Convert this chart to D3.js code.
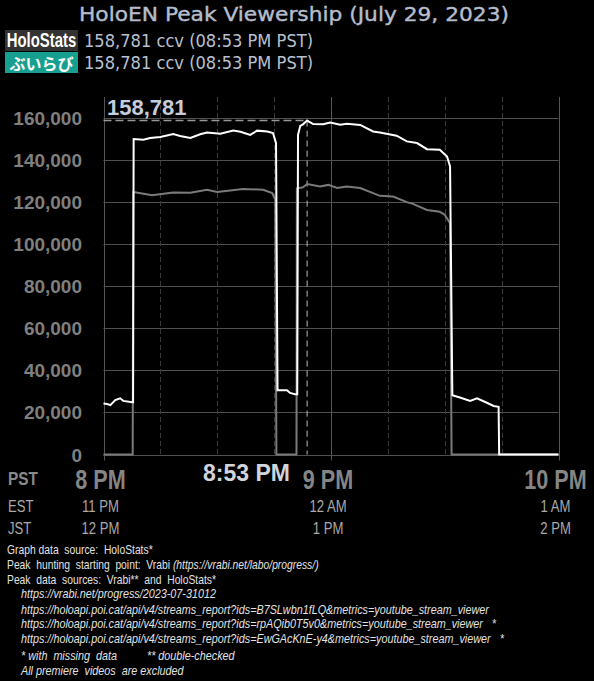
<!DOCTYPE html>
<html>
<head>
<meta charset="utf-8">
<script src="https://cdn.jsdelivr.net/npm/d3@7"></script>
<style>
  body { margin: 0; background: #000; }
  svg { display: block; }
</style>
</head>
<body>
<div id="chart"></div>
<script>
// minutes after 8 PM PST and viewers (total of all streams)
var totalMinutes = [0, 1.0, 1.8, 3.1, 4.4, 5.2, 7.6, 7.8, 7.95, 10.5, 12.3, 15, 18.4, 20.2, 22.9, 25.5, 27.3,
  30.8, 34.2, 36.1, 38.7, 40.5, 43.2, 44.7, 45.5, 45.9, 48.4, 49.2, 50.5, 51.1, 51.3, 51.9, 52.6, 53.7,
  55.3, 57.9, 59.8, 62.4, 64.2, 67.7, 71.1, 72.9, 77.3, 80.0, 82.7, 85.3, 88.7, 90.6, 91.4, 92.0,
  94.0, 96.7, 98.5, 101.1, 102.9, 104.2, 104.35, 120];
var totalViewers = [24300, 24000, 23500, 25900, 26700, 25500, 24800, 24800, 150000, 149700, 150500, 151000, 152400, 151500, 150500, 152300, 153100,
  152500, 154100, 153500, 152000, 154000, 153600, 152900, 148000, 30600, 30600, 29300, 28700, 28700, 152000, 156300, 157000, 158781,
  157100, 157000, 157900, 156800, 157300, 156700, 153600, 153100, 151600, 148900, 148100, 145200, 144900, 141700, 137000, 28200,
  27100, 25500, 26700, 24600, 23100, 22700, 0, 0];

// main stream viewers
var streamMinutes = [0, 7.7, 7.85, 12.8, 18.4, 22.9, 27.3, 30.0, 33.4, 36.8, 42.1, 44.5, 45.3, 45.6, 50.9, 51.0,
  52.6, 53.7, 57.1, 59.3, 61.6, 64.2, 67.7, 72.9, 76.4, 80.0, 81.6, 85.3, 88.7, 90.0, 91.4, 91.8, 120];
var streamViewers = [0, 0, 124800, 123300, 124600, 124500, 125900, 124800, 125500, 126300, 125900, 124300, 121100, 0, 0, 126500,
  127100, 128600, 127400, 128200, 126700, 127400, 126700, 123000, 122700, 120000, 119200, 116300, 115400, 114000, 110000, 0, 0];

var peakValue = 158781;
var peakMinute = 53.7;

var yTicks = [0, 20000, 40000, 60000, 80000, 100000, 120000, 140000, 160000];
var hourMinutes = [0, 60, 120];
var quarterMinutes = [15, 30, 45, 75, 90, 105];
var pstLabels = ["8 PM", "9 PM", "10 PM"];
var estLabels = ["11 PM", "12 AM", "1 AM"];
var jstLabels = ["12 PM", "1 PM", "2 PM"];

var footerLines = [
  { t: "Graph data  source:  HoloStats*", x: 7, it: false },
  { t: "Peak  hunting  starting  point:  Vrabi ", x: 7, it: false, tail: "(https://vrabi.net/labo/progress/)" },
  { t: "Peak  data  sources:  Vrabi**  and  HoloStats*", x: 7, it: false },
  { t: "https://vrabi.net/progress/2023-07-31012", x: 21, it: true },
  { t: "https://holoapi.poi.cat/api/v4/streams_report?ids=B7SLwbn1fLQ&metrics=youtube_stream_viewer", x: 21, it: true },
  { t: "https://holoapi.poi.cat/api/v4/streams_report?ids=rpAQib0T5v0&metrics=youtube_stream_viewer   *", x: 21, it: true },
  { t: "https://holoapi.poi.cat/api/v4/streams_report?ids=EwGAcKnE-y4&metrics=youtube_stream_viewer   *", x: 21, it: true },
  { t: "* with  missing  data          ** double-checked", x: 21, it: true },
  { t: "All premiere  videos  are excluded", x: 21, it: true }
];

var width = 594, height = 681;
var svg = d3.select("#chart").append("svg")
  .attr("width", width)
  .attr("height", height)
  .style("background", "#000");

var x = d3.scaleLinear().domain([0, 120]).range([103.5, 558.5]);
var y = d3.scaleLinear().domain([0, 170000]).range([454.5, 97]);

var arial = "Liberation Sans, Arial, sans-serif";

// text squeezed horizontally, like a narrow font
function narrowText(g, px, py, sx) {
  return g.append("text")
    .attr("transform", "translate(" + px + "," + py + ") scale(" + sx + ",1)")
    .style("font-family", arial);
}

// title
svg.append("text")
  .attr("x", 294).attr("y", 21)
  .attr("text-anchor", "middle")
  .attr("textLength", 430).attr("lengthAdjust", "spacingAndGlyphs")
  .style("font-family", "DejaVu Sans")
  .style("font-size", "20px")
  .style("fill", "#b5bdcc")
  .style("stroke", "#b5bdcc")
  .style("stroke-width", 0.4)
  .text("HoloEN Peak Viewership (July 29, 2023)");

// source rows
var rows = [
  { badge: "HoloStats", bg: "#333333", y: 30 },
  { badge: "ぶいらび", bg: "#17a08f", y: 52 }
];
rows.forEach(function(r, i) {
  svg.append("rect")
    .attr("x", 5).attr("y", r.y).attr("width", 73).attr("height", 21)
    .attr("fill", r.bg);
  if (i === 0) {
    narrowText(svg, 41.5, r.y + 16.5, 0.745)
      .attr("text-anchor", "middle")
      .style("font-weight", "bold")
      .style("font-size", "20px")
      .style("fill", "#fff")
      .text(r.badge);
  } else {
    svg.append("text")
      .attr("x", 41.5).attr("y", r.y + 17.5)
      .attr("text-anchor", "middle")
      .style("font-family", "Noto Sans CJK JP")
      .style("font-weight", "bold")
      .style("font-size", "16px")
      .style("fill", "#fff")
      .text(r.badge);
  }
  svg.append("text")
    .attr("x", 84).attr("y", r.y + 17)
    .attr("textLength", 229).attr("lengthAdjust", "spacingAndGlyphs")
    .style("font-family", "DejaVu Sans")
    .style("font-size", "17px")
    .style("fill", "#b8c0d0")
    .text(d3.format(",")(peakValue) + " ccv (08:53 PM PST)");
});

// grid
var grid = svg.append("g");
grid.selectAll(".hgrid")
  .data(yTicks)
  .enter().append("line")
  .attr("x1", x(0)).attr("x2", x(120))
  .attr("y1", function(d) { return Math.round(y(d)) + 0.5; })
  .attr("y2", function(d) { return Math.round(y(d)) + 0.5; })
  .attr("stroke", "#505050");
grid.selectAll(".qgrid")
  .data(quarterMinutes)
  .enter().append("line")
  .attr("x1", function(d) { return Math.round(x(d)) + 0.5; })
  .attr("x2", function(d) { return Math.round(x(d)) + 0.5; })
  .attr("y1", y(170000)).attr("y2", y(0))
  .attr("stroke", "#3a3a3a")
  .attr("stroke-dasharray", "5,3");
grid.selectAll(".vgrid")
  .data(hourMinutes)
  .enter().append("line")
  .attr("x1", function(d) { return Math.round(x(d)) + 0.5; })
  .attr("x2", function(d) { return Math.round(x(d)) + 0.5; })
  .attr("y1", y(170000)).attr("y2", y(0) + 6)
  .attr("stroke", "#555");

// y axis labels
svg.selectAll(".ylab")
  .data(yTicks)
  .enter().append("text")
  .attr("x", 82)
  .attr("y", function(d) { return y(d) + 7; })
  .attr("text-anchor", "end")
  .style("font-family", arial)
  .style("font-weight", "bold")
  .style("font-size", "19px")
  .style("fill", "#7f7f7f")
  .text(d3.format(","));

// peak guides
svg.append("line")
  .attr("x1", x(0)).attr("x2", x(peakMinute))
  .attr("y1", y(peakValue)).attr("y2", y(peakValue))
  .attr("stroke", "#999")
  .attr("stroke-width", 1.5)
  .attr("stroke-dasharray", "8,4");
svg.append("line")
  .attr("x1", x(peakMinute)).attr("x2", x(peakMinute))
  .attr("y1", y(peakValue)).attr("y2", y(0))
  .attr("stroke", "#bbb")
  .attr("stroke-dasharray", "6,4");

svg.append("text")
  .attr("x", 107).attr("y", 115)
  .style("font-family", arial)
  .style("font-weight", "bold")
  .style("font-size", "22px")
  .style("fill", "#c5cddc")
  .text(d3.format(",")(peakValue));

// lines
var line = d3.line()
  .x(function(d) { return x(d[0]); })
  .y(function(d) { return y(d[1]); });

svg.append("path")
  .datum(d3.zip(streamMinutes, streamViewers))
  .attr("d", line)
  .attr("fill", "none")
  .attr("stroke", "#7a7a7a")
  .attr("stroke-width", 2);

svg.append("path")
  .datum(d3.zip(totalMinutes, totalViewers))
  .attr("d", line)
  .attr("fill", "none")
  .attr("stroke", "#fff")
  .attr("stroke-width", 2);

// x axis labels
narrowText(svg, 8, 485, 0.83)
  .style("font-weight", "bold").style("font-size", "18.5px").style("fill", "#8a8a8a")
  .text("PST");
narrowText(svg, 8, 512, 0.82)
  .style("font-size", "16px").style("fill", "#a8a8a8")
  .text("EST");
narrowText(svg, 8, 534, 0.82)
  .style("font-size", "16px").style("fill", "#a8a8a8")
  .text("JST");

hourMinutes.forEach(function(m, i) {
  narrowText(svg, x(m) - 3, 489, 0.8)
    .attr("text-anchor", "middle")
    .style("font-weight", "bold").style("font-size", "27px").style("fill", "#858585")
    .text(pstLabels[i]);
  narrowText(svg, x(m) - 3, 512, 0.82)
    .attr("text-anchor", "middle")
    .style("font-size", "16px").style("fill", "#a8a8a8")
    .text(estLabels[i]);
  narrowText(svg, x(m) - 3, 534, 0.82)
    .attr("text-anchor", "middle")
    .style("font-size", "16px").style("fill", "#a8a8a8")
    .text(jstLabels[i]);
});

svg.append("text")
  .attr("x", 290).attr("y", 481)
  .attr("text-anchor", "end")
  .style("font-family", arial).style("font-weight", "bold")
  .style("font-size", "23px").style("fill", "#d0d4dc")
  .text("8:53 PM");

// footer notes
var footY = [554, 569, 584, 598, 614, 628, 643, 660, 675];
footerLines.forEach(function(f, i) {
  var t = narrowText(svg, f.x, footY[i], f.it ? 0.9 : 0.86)
    .attr("xml:space", "preserve")
    .style("font-size", "12px")
    .style("fill", "#e2e2e2")
    .style("font-style", f.it ? "italic" : "normal")
    .text(f.t);
  if (f.tail) {
    t.append("tspan").style("font-style", "italic").text(f.tail);
  }
});
</script>
</body>
</html>
